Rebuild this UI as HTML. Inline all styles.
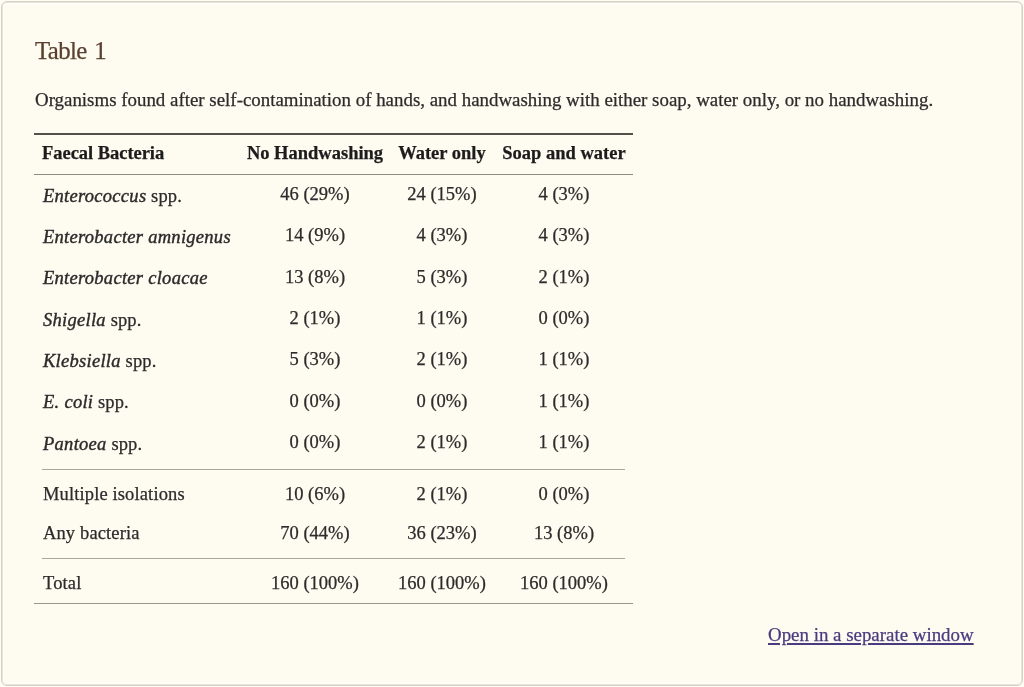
<!DOCTYPE html>
<html><head><meta charset="utf-8"><title>Table 1</title>
<style>
html,body{margin:0;padding:0;width:1024px;height:687px;overflow:hidden;background:#fdfdf3}
.box{position:absolute;left:1px;top:1px;width:1020px;height:683px;border:1px solid #d6d1c5;border-radius:6px;background:#fefbf0;box-shadow:inset 0 0 0 1px #e9e5db,inset 0 0 0 3px #fffdf5}
.t{position:absolute;line-height:0;white-space:nowrap;font-family:"Liberation Serif",serif;will-change:transform;-webkit-text-stroke:0.25px currentColor}
.t i{letter-spacing:0.28px;-webkit-text-stroke:0.4px currentColor}
.l{position:absolute}
</style></head><body>
<div class="box"></div>
<div class="t" style="top:51.33px;font-size:24.8px;color:#5a4030;letter-spacing:-0.63px;word-spacing:2px;left:35px;">Table 1</div>
<div class="t" style="top:100.42px;font-size:18.9px;color:#2b2b2b;left:34.5px;">Organisms found after self-contamination of hands, and handwashing with either soap, water only, or no handwashing.</div>
<div class="t" style="top:153.36px;font-size:18.5px;color:#1c1c1c;font-weight:bold;letter-spacing:-0.04px;left:42px;">Faecal Bacteria</div>
<div class="t" style="top:153.36px;font-size:18.5px;color:#1c1c1c;font-weight:bold;left:164.50px;width:300px;text-align:center;">No Handwashing</div>
<div class="t" style="top:153.36px;font-size:18.5px;color:#1c1c1c;font-weight:bold;left:292.00px;width:300px;text-align:center;">Water only</div>
<div class="t" style="top:153.36px;font-size:18.5px;color:#1c1c1c;font-weight:bold;left:413.50px;width:300px;text-align:center;">Soap and water</div>
<div class="t" style="top:195.56px;font-size:18.5px;color:#2b2b2b;letter-spacing:0.13px;left:42.5px;"><i>Enterococcus</i> spp.</div>
<div class="t" style="top:193.96px;font-size:18.5px;color:#2b2b2b;left:164.50px;width:300px;text-align:center;">46 (29%)</div>
<div class="t" style="top:193.96px;font-size:18.5px;color:#2b2b2b;left:292.00px;width:300px;text-align:center;">24 (15%)</div>
<div class="t" style="top:193.96px;font-size:18.5px;color:#2b2b2b;left:413.50px;width:300px;text-align:center;">4 (3%)</div>
<div class="t" style="top:236.93px;font-size:18.5px;color:#2b2b2b;letter-spacing:0.13px;left:42.5px;"><i>Enterobacter amnigenus</i></div>
<div class="t" style="top:235.33px;font-size:18.5px;color:#2b2b2b;left:164.50px;width:300px;text-align:center;">14 (9%)</div>
<div class="t" style="top:235.33px;font-size:18.5px;color:#2b2b2b;left:292.00px;width:300px;text-align:center;">4 (3%)</div>
<div class="t" style="top:235.33px;font-size:18.5px;color:#2b2b2b;left:413.50px;width:300px;text-align:center;">4 (3%)</div>
<div class="t" style="top:278.30px;font-size:18.5px;color:#2b2b2b;letter-spacing:0.13px;left:42.5px;"><i>Enterobacter cloacae</i></div>
<div class="t" style="top:276.70px;font-size:18.5px;color:#2b2b2b;left:164.50px;width:300px;text-align:center;">13 (8%)</div>
<div class="t" style="top:276.70px;font-size:18.5px;color:#2b2b2b;left:292.00px;width:300px;text-align:center;">5 (3%)</div>
<div class="t" style="top:276.70px;font-size:18.5px;color:#2b2b2b;left:413.50px;width:300px;text-align:center;">2 (1%)</div>
<div class="t" style="top:319.67px;font-size:18.5px;color:#2b2b2b;letter-spacing:0.13px;left:42.5px;"><i>Shigella</i> spp.</div>
<div class="t" style="top:318.07px;font-size:18.5px;color:#2b2b2b;left:164.50px;width:300px;text-align:center;">2 (1%)</div>
<div class="t" style="top:318.07px;font-size:18.5px;color:#2b2b2b;left:292.00px;width:300px;text-align:center;">1 (1%)</div>
<div class="t" style="top:318.07px;font-size:18.5px;color:#2b2b2b;left:413.50px;width:300px;text-align:center;">0 (0%)</div>
<div class="t" style="top:361.04px;font-size:18.5px;color:#2b2b2b;letter-spacing:0.13px;left:42.5px;"><i>Klebsiella</i> spp.</div>
<div class="t" style="top:359.44px;font-size:18.5px;color:#2b2b2b;left:164.50px;width:300px;text-align:center;">5 (3%)</div>
<div class="t" style="top:359.44px;font-size:18.5px;color:#2b2b2b;left:292.00px;width:300px;text-align:center;">2 (1%)</div>
<div class="t" style="top:359.44px;font-size:18.5px;color:#2b2b2b;left:413.50px;width:300px;text-align:center;">1 (1%)</div>
<div class="t" style="top:402.41px;font-size:18.5px;color:#2b2b2b;letter-spacing:0.13px;left:42.5px;"><i>E. coli</i> spp.</div>
<div class="t" style="top:400.81px;font-size:18.5px;color:#2b2b2b;left:164.50px;width:300px;text-align:center;">0 (0%)</div>
<div class="t" style="top:400.81px;font-size:18.5px;color:#2b2b2b;left:292.00px;width:300px;text-align:center;">0 (0%)</div>
<div class="t" style="top:400.81px;font-size:18.5px;color:#2b2b2b;left:413.50px;width:300px;text-align:center;">1 (1%)</div>
<div class="t" style="top:443.78px;font-size:18.5px;color:#2b2b2b;letter-spacing:0.13px;left:42.5px;"><i>Pantoea</i> spp.</div>
<div class="t" style="top:442.18px;font-size:18.5px;color:#2b2b2b;left:164.50px;width:300px;text-align:center;">0 (0%)</div>
<div class="t" style="top:442.18px;font-size:18.5px;color:#2b2b2b;left:292.00px;width:300px;text-align:center;">2 (1%)</div>
<div class="t" style="top:442.18px;font-size:18.5px;color:#2b2b2b;left:413.50px;width:300px;text-align:center;">1 (1%)</div>
<div class="t" style="top:493.76px;font-size:18.5px;color:#2b2b2b;letter-spacing:0.13px;left:42.5px;">Multiple isolations</div>
<div class="t" style="top:493.76px;font-size:18.5px;color:#2b2b2b;left:164.50px;width:300px;text-align:center;">10 (6%)</div>
<div class="t" style="top:493.76px;font-size:18.5px;color:#2b2b2b;left:292.00px;width:300px;text-align:center;">2 (1%)</div>
<div class="t" style="top:493.76px;font-size:18.5px;color:#2b2b2b;left:413.50px;width:300px;text-align:center;">0 (0%)</div>
<div class="t" style="top:533.16px;font-size:18.5px;color:#2b2b2b;letter-spacing:0.13px;left:42.5px;">Any bacteria</div>
<div class="t" style="top:533.16px;font-size:18.5px;color:#2b2b2b;left:164.50px;width:300px;text-align:center;">70 (44%)</div>
<div class="t" style="top:533.16px;font-size:18.5px;color:#2b2b2b;left:292.00px;width:300px;text-align:center;">36 (23%)</div>
<div class="t" style="top:533.16px;font-size:18.5px;color:#2b2b2b;left:413.50px;width:300px;text-align:center;">13 (8%)</div>
<div class="t" style="top:582.76px;font-size:18.5px;color:#2b2b2b;letter-spacing:0.13px;left:42.5px;">Total</div>
<div class="t" style="top:582.76px;font-size:18.5px;color:#2b2b2b;left:164.50px;width:300px;text-align:center;">160 (100%)</div>
<div class="t" style="top:582.76px;font-size:18.5px;color:#2b2b2b;left:292.00px;width:300px;text-align:center;">160 (100%)</div>
<div class="t" style="top:582.76px;font-size:18.5px;color:#2b2b2b;left:413.50px;width:300px;text-align:center;">160 (100%)</div>
<div class="t" style="top:635.42px;font-size:18.9px;color:#483c80;text-decoration:underline;text-decoration-thickness:1.5px;text-underline-offset:2px;left:768px;">Open in a separate window</div>
<div class="l" style="left:34px;top:133px;width:599px;height:2px;background:#54514a"></div>
<div class="l" style="left:34px;top:174px;width:599px;height:1px;background:#8e8b82"></div>
<div class="l" style="left:42px;top:469px;width:583px;height:1px;background:#a9a69c"></div>
<div class="l" style="left:42px;top:558px;width:583px;height:1px;background:#a9a69c"></div>
<div class="l" style="left:34px;top:603px;width:599px;height:1px;background:#9a978d"></div>
</body></html>
